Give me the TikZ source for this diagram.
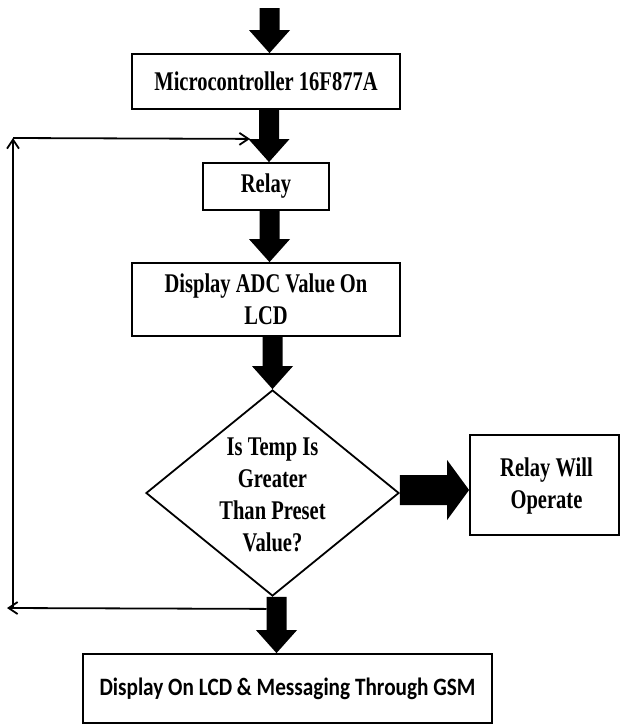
\documentclass[tikz,border=0pt]{standalone}
\usepackage{fontspec}
\usetikzlibrary{shapes.geometric,calc,arrows.meta}
\newfontfamily\boxfont[FakeStretch=0.76]{Liberation Serif}
\newfontfamily\gsmfont[FakeStretch=0.85]{Carlito}

% thick filled arrow pointing down: x and top from #1, tip height from #2
\newcommand{\blockdown}[2]{%
  \fill let \p1=#1, \p2=#2 in
    (\x1-10pt,\y1) -- (\x1+10pt,\y1) -- (\x1+10pt,\y2+23pt) -- (\x1+20.5pt,\y2+23pt)
    -- (\x1,\y2) -- (\x1-20.5pt,\y2+23pt) -- (\x1-10pt,\y2+23pt) -- cycle;}
% thick filled arrow pointing right: y and tail from #1, tip from #2
\newcommand{\blockright}[2]{%
  \fill let \p1=#1, \p2=#2 in
    (\x1,\y1+15pt) -- (\x2-22pt,\y1+15pt) -- (\x2-22pt,\y1+30pt) -- (\x2,\y1)
    -- (\x2-22pt,\y1-30pt) -- (\x2-22pt,\y1-15pt) -- (\x1,\y1-15pt) -- cycle;}

\begin{document}
\begin{tikzpicture}[x=1pt,y=-1pt,
  serif/.style={font=\boxfont\bfseries\fontsize{27}{32}\selectfont},
  box/.style={draw, line width=1.8pt, inner sep=0pt, align=center, serif},
  loopline/.style={line width=1.8pt, -{Straight Barb[length=9pt,width=12pt]}}]
\useasboundingbox (0,0) rectangle (620,724);

% process boxes
\node[box, minimum width=268pt, minimum height=55pt] (micro) at (266,81.5) {Microcontroller 16F877A};
\node[box, minimum width=126pt, minimum height=47pt] (relay) at (266,186.5) {Relay};
\node[box, minimum width=268pt, minimum height=73pt] (adc) at (266,299.5) {Display ADC Value On\\LCD};
\node[draw, line width=1.8pt, diamond, inner sep=0pt, minimum width=253pt, minimum height=206pt] (dia) at (272.5,493) {};
\node[align=center, inner sep=0pt, serif] (diatext) at ($(dia.center)+(0,2)$)
  {Is Temp Is\\Greater\\Than Preset\\Value?};
\node[box, minimum width=149pt, minimum height=100pt] (rwo) at (544.5,485) {};
\node[align=center, inner sep=0pt, serif] (rwotext) at ($(rwo.center)+(2,1)$)
  {Relay Will\\Operate};
\node[draw, line width=1.8pt, inner sep=0pt, minimum width=409pt, minimum height=69pt,
  font=\gsmfont\bfseries\fontsize{25}{28}\selectfont] (gsm) at (287.5,688.5) {Display On LCD \& Messaging Through GSM};

% anchors for the thick arrows
\coordinate (in) at (269.5,8);
\coordinate (a2) at ($(micro.south)+(3,0)$);
\coordinate (a3) at ($(relay.south)+(3.5,0)$);
\coordinate (a4) at (adc.south -| dia.north);
\coordinate (a5) at ($(dia.south)+(4,0)$);
\coordinate (a6) at ($(dia.east)+(0,-3)$);

\blockdown{(in)}{(micro.north)}
\blockdown{(a2)}{(relay.north)}
\blockdown{(a3)}{(adc.north)}
\blockdown{(a4)}{(dia.north)}
\blockdown{(a5)}{(gsm.north)}
\blockright{(a6)}{(rwo.west)}

% feedback loop
\coordinate (fbA) at ($(dia.south)+(-6,12)$);
\coordinate (fbL) at (7,608);
\coordinate (fbB) at (13,608);
\coordinate (fbT) at (13,138);
\coordinate (fbC) at ($(micro.south)+(-16,29)$);
\draw[loopline] (fbA) -- (fbL);
\draw[loopline] (fbB) -- (fbT);
\draw[loopline] (fbT) -- (fbC);
\end{tikzpicture}
\end{document}
